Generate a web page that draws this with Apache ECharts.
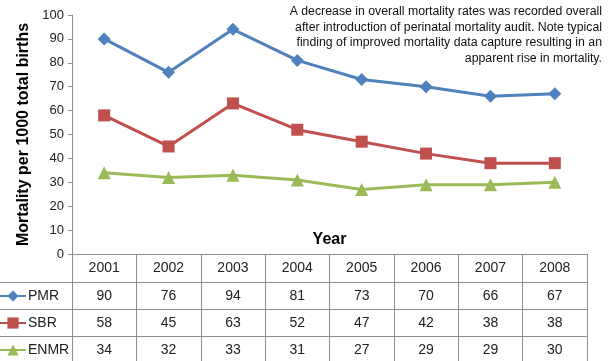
<!DOCTYPE html>
<html>
<head>
<meta charset="utf-8">
<script src="https://cdn.jsdelivr.net/npm/echarts@6/dist/echarts.min.js"></script>
<style>
	html, body { margin: 0; padding: 0; background: #fff; }
	#chart { width: 610px; height: 361px; }
</style>
</head>
<body>
<div id="chart"></div>
<script>
'use strict';

var years = [ "2001", "2002", "2003", "2004", "2005", "2006", "2007", "2008" ];
var pmr = [ 90, 76, 94, 81, 73, 70, 66, 67 ];
var sbr = [ 58, 45, 63, 52, 47, 42, 38, 38 ];
var enmr = [ 34, 32, 33, 31, 27, 29, 29, 30 ];
var seriesNames = [ "PMR", "SBR", "ENMR" ];
var seriesValues = [ pmr, sbr, enmr ];
var seriesColors = [ "#4F81BD", "#C0504D", "#9BBB59" ];
var seriesSymbols = [ "diamond", "rect", "triangle" ];
var symbolSizes = [ 13, 12, 13 ];
var yMin = 0, yMax = 100, yStep = 10;
var note = [
	"A decrease in overall mortality rates was recorded overall",
	"after introduction of perinatal mortality audit. Note typical",
	"finding of improved mortality data capture resulting in an",
	"apparent rise in mortality."
];

var FONT = "'Liberation Sans', Arial, sans-serif";
var GRID = { left: 72, right: 23, top: 15, bottom: 107 };
var ROW_H = 27;
var lineGrey = "#8f8f8f";

var xAxes = [ {
	type : "category",
	data : years,
	position : "bottom",
	boundaryGap : true,
	axisLine : { lineStyle : { color : lineGrey, width : 1 } },
	axisTick : { show : true, length : 110, lineStyle : { color : lineGrey } },
	axisLabel : { interval : 0, margin : 14, verticalAlign : "middle", fontSize : 14, color : "#222" }
} ];

// one extra axis per table row, labels read from the series arrays
var graphics = [];
seriesValues.forEach(function(vals, k) {
	var off = 28 + ROW_H * k;
	xAxes.push({
		type : "category",
		data : years,
		position : "bottom",
		offset : off,
		boundaryGap : true,
		axisLine : { show : true, lineStyle : { color : lineGrey, width : 1 } },
		axisTick : { show : false },
		axisLabel : {
			interval : 0, margin : 14, verticalAlign : "middle", fontSize : 14, color : "#222",
			formatter : function(v, i) { return String(vals[i]); }
		}
	});
	var yLine = 361 - GRID.bottom + off + 0.5;
	graphics.push({
		type : "line",
		shape : { x1 : 0, y1 : yLine, x2 : GRID.left, y2 : yLine },
		style : { stroke : lineGrey, lineWidth : 1 }
	});
});

graphics.push({
	type : "text",
	x : GRID.left + (610 - GRID.left - GRID.right) / 2,
	y : 240,
	style : { text : "Year", align : "center", verticalAlign : "middle", font : "bold 16px " + FONT, fill : "#000" }
});
graphics.push({
	type : "text",
	x : 602,
	y : 4,
	style : { text : note.join("\n"), align : "right", verticalAlign : "top", font : "12.3px " + FONT, lineHeight : 15.5, fill : "#111" }
});

var series = seriesNames.map(function(name, k) {
	return {
		name : name,
		type : "line",
		data : seriesValues[k],
		symbol : seriesSymbols[k],
		symbolSize : symbolSizes[k],
		color : seriesColors[k],
		lineStyle : { width : 3, color : seriesColors[k] },
		itemStyle : { color : seriesColors[k] }
	};
});

var option = {
	animation : false,
	textStyle : { fontFamily : FONT },
	grid : GRID,
	legend : {
		orient : "vertical",
		left : -1,
		top : 289,
		padding : 0,
		itemGap : ROW_H - 14,
		itemWidth : 26,
		itemHeight : 14,
		selectedMode : false,
		textStyle : { fontSize : 14, color : "#222", lineHeight : 14, padding : [ 0, 0, 0, -3 ] },
		data : seriesNames
	},
	xAxis : xAxes,
	yAxis : {
		type : "value",
		min : yMin,
		max : yMax,
		interval : yStep,
		name : "Mortality per 1000 total births",
		nameLocation : "middle",
		nameGap : 36,
		nameTextStyle : { fontSize : 16, fontWeight : "bold", color : "#000" },
		axisLine : { show : true, lineStyle : { color : lineGrey } },
		axisTick : { show : true, length : 4, lineStyle : { color : lineGrey } },
		axisLabel : { fontSize : 13, margin : 8, color : "#222" },
		splitLine : { show : false }
	},
	graphic : graphics,
	series : series
};

var chart = echarts.init(document.getElementById("chart"));
chart.setOption(option);
</script>
</body>
</html>
